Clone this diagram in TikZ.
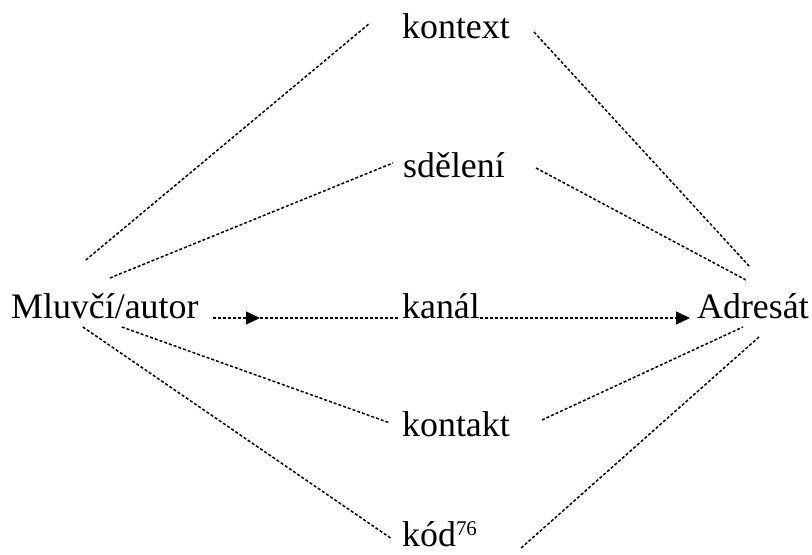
\documentclass[tikz,border=0pt]{standalone}
\usepackage{fontspec}
\setmainfont{Liberation Serif}
\usetikzlibrary{arrows.meta}

\tikzset{
  word/.style={inner sep=0pt, anchor=base west, font=\fontsize{36}{40}\selectfont},
  link/.style={line width=1.5bp, dash pattern=on 3bp off 2bp},
  arrowed/.style={-{Triangle[length=14bp,width=13bp]}}
}

\begin{document}
\begin{tikzpicture}[x=1bp, y=1bp]
  \useasboundingbox (0,0) rectangle (812,555);
  \node[word] (autor) at (11,236) {Mluvčí/autor};
  \node[word] (kontext) at (402,516) {kontext};
  \node[word] (sdeleni) at (403,377) {sdělení};
  \node[word] (kanal) at (402,236) {kanál};
  \node[word] (kontakt) at (402,118) {kontakt};
  \node[word] (kod) at (402,8) {kód{\fontsize{21}{21}\selectfont\raisebox{11bp}{76}}};
  \node[word] (adresat) at (697,236) {Adresát};
  \coordinate (mid) at ([shift={(-142,1)}]kanal.base west);

  % from the speaker
  \draw[link] ([shift={(-19,59)}]autor.base) -- ([shift={(-32,16)}]kontext.base west);
  \draw[link] ([shift={(5,41)}]autor.base) -- ([shift={(-10,15)}]sdeleni.base west);
  \draw[link] ([shift={(17,-8)}]autor.base) -- ([shift={(-12,14)}]kontakt.base west);
  \draw[link] ([shift={(-22,-8)}]autor.base) -- ([shift={(-10,8)}]kod.base west);

  % to the addressee
  \draw[link] ([shift={(24,7)}]kontext.base east) -- ([shift={(-3,52)}]adresat.base);
  \draw[link] ([shift={(31,10)}]sdeleni.base east) -- ([shift={(-7,39)}]adresat.base);
  \draw[link] ([shift={(32,17)}]kontakt.base east) -- ([shift={(-10,-8)}]adresat.base);
  \draw[link] ([shift={(44,-1)}]kod.base east) -- ([shift={(6,-18)}]adresat.base);

  % channel
  \draw[link, arrowed] ([shift={(14,1)}]autor.base east) -- (mid);
  \draw[link] (mid) -- ([shift={(-2,1)}]kanal.base west);
  \draw[link, arrowed] ([shift={(0,1)}]kanal.base east) -- ([shift={(-7,1)}]adresat.base west);
\end{tikzpicture}
\end{document}
